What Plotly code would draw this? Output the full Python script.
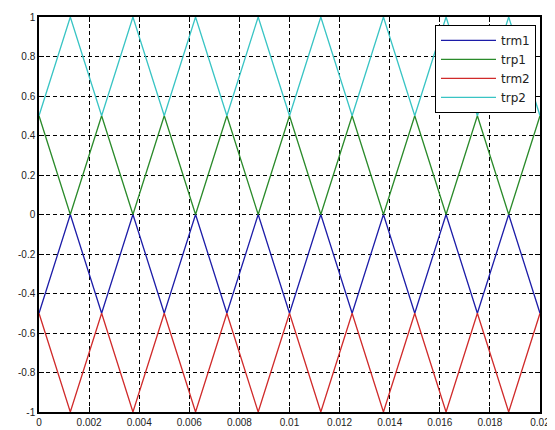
import plotly.graph_objects as go

# Vertex times of the triangle carriers (period 0.0025 s)
t = [0, 0.00125, 0.0025, 0.00375, 0.005, 0.00625, 0.0075, 0.00875, 0.01,
     0.01125, 0.0125, 0.01375, 0.015, 0.01625, 0.0175, 0.01875, 0.02]

trm1 = [-0.5, 0, -0.5, 0, -0.5, 0, -0.5, 0, -0.5, 0, -0.5, 0, -0.5, 0, -0.5, 0, -0.5]
trp1 = [0.5, 0, 0.5, 0, 0.5, 0, 0.5, 0, 0.5, 0, 0.5, 0, 0.5, 0, 0.5, 0, 0.5]
trm2 = [-0.5, -1, -0.5, -1, -0.5, -1, -0.5, -1, -0.5, -1, -0.5, -1, -0.5, -1, -0.5, -1, -0.5]
trp2 = [0.5, 1, 0.5, 1, 0.5, 1, 0.5, 1, 0.5, 1, 0.5, 1, 0.5, 1, 0.5, 1, 0.5]

names = ["trm1", "trp1", "trm2", "trp2"]
series = [trm1, trp1, trm2, trp2]
colors = ["#1c1ca8", "#2a8a2a", "#d02a2a", "#38c4c4"]

xtick_vals = [0, 0.002, 0.004, 0.006, 0.008, 0.01, 0.012, 0.014, 0.016, 0.018, 0.02]
xtick_text = ["0", "0.002", "0.004", "0.006", "0.008", "0.01", "0.012", "0.014", "0.016", "0.018", "0.02"]
ytick_vals = [-1, -0.8, -0.6, -0.4, -0.2, 0, 0.2, 0.4, 0.6, 0.8, 1]
ytick_text = ["-1", "-0.8", "-0.6", "-0.4", "-0.2", "0", "0.2", "0.4", "0.6", "0.8", "1"]

fig = go.Figure()
for n, s, c in zip(names, series, colors):
    fig.add_trace(go.Scatter(x=t, y=s, mode="lines", name=n,
                             line=dict(color=c, width=1.3)))

axis_common = dict(
    showline=True, linecolor="black", linewidth=1.5, mirror="ticks",
    ticks="inside", ticklen=5, tickcolor="black",
    showgrid=True, gridcolor="black", gridwidth=1, griddash="4px,3px",
    zeroline=False, automargin=False,
    tickfont=dict(family="Liberation Sans, Arial, sans-serif", size=10, color="#222"),
)

fig.update_layout(
    width=547, height=422,
    margin=dict(l=31, r=15, t=9, b=18),
    paper_bgcolor="white", plot_bgcolor="white",
    xaxis=dict(range=[0, 0.02], tickvals=xtick_vals, ticktext=xtick_text, **axis_common),
    yaxis=dict(range=[-1, 1], tickvals=ytick_vals, ticktext=ytick_text, **axis_common),
    legend=dict(x=0.992, y=0.98, xanchor="right", yanchor="top",
                bgcolor="white", bordercolor="black", borderwidth=1,
                font=dict(family="DejaVu Sans, sans-serif", size=12, color="#222"),
                itemwidth=55, tracegroupgap=0),
    showlegend=True,
)

fig.write_html("out.html")
